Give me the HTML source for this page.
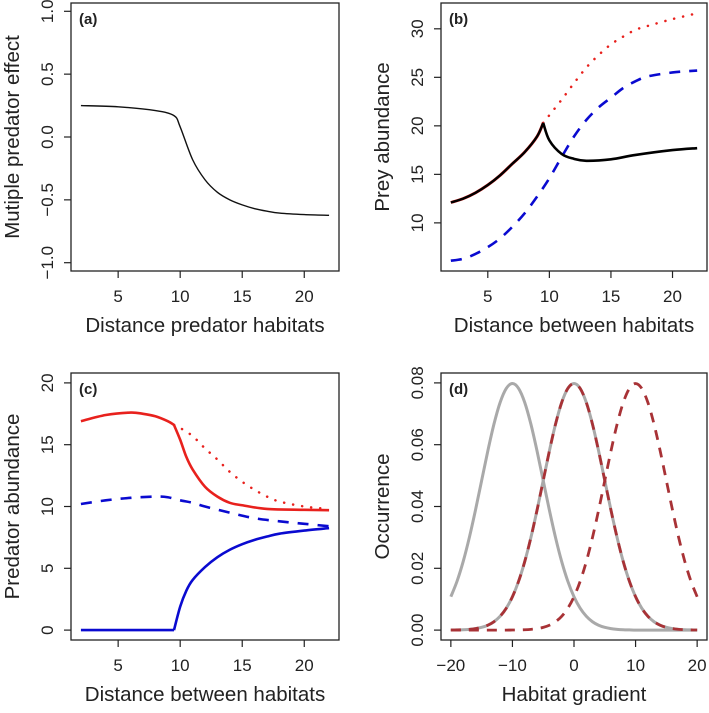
<!DOCTYPE html>
<html><head><meta charset="utf-8"><style>
body{margin:0;background:#fff}
svg{display:block;font-family:"Liberation Sans",Arial,sans-serif}
</style></head><body>
<svg id="fig" width="709" height="713" viewBox="0 0 709 713"></svg>
<script>
// ---------- Data ----------
const aX = [2,5,8,9.5,10,11,12,13,14,15,16,17,18,20,22];
const aY = [0.25,0.24,0.21,0.17,0.08,-0.18,-0.34,-0.44,-0.50,-0.54,-0.57,-0.59,-0.605,-0.617,-0.623];

const bX1 = [2,3,4,5,6,7,8,9,9.5];
const bBlack1 = [12.1,12.5,13.1,13.9,14.9,16.1,17.3,18.9,20.3];
const bX2 = [9.5,10,11,12,13,15,17,20,22];
const bBlack2 = [20.3,18.5,17.1,16.6,16.4,16.55,17.0,17.5,17.7];
const bRedX = [9.5,10,11,12,13,14,15,16,17,18,20,22];
const bRed = [20.3,21.1,22.7,24.4,26,27.3,28.4,29.2,29.9,30.3,31,31.6];
const bBlueX = [2,3,4,5,6,7,8,9,10,11,12,13,14,15,16,17,18,20,22];
const bBlue = [6.1,6.3,6.8,7.5,8.4,9.6,11,12.7,14.6,16.8,18.9,20.6,21.9,22.9,23.9,24.6,25.1,25.5,25.7];

const cX1 = [2,4,6,7,8,9,9.5];
const cRed1 = [16.9,17.4,17.6,17.5,17.3,16.9,16.6];
const cX2 = [9.5,10,10.5,11,12,13,14,15,17,20,22];
const cRed2 = [16.6,15.4,14,13,11.6,10.8,10.3,10.1,9.8,9.73,9.7];
const cRedDotX = [9.5,10,11,12,13,14,15,16,17,18,20,22];
const cRedDot = [16.6,16.35,15.7,14.7,13.8,12.8,12,11.35,10.8,10.4,10,9.8];
const cBlueDashX = [2,4,6,8,9,10,11,12,14,16,18,20,22];
const cBlueDash = [10.2,10.5,10.7,10.8,10.75,10.5,10.3,10,9.5,9.05,8.8,8.6,8.4];
const cBlue1X = [2,9.5];
const cBlue1 = [0,0];
const cBlue2X = [9.5,10,10.5,11,12,13,14,15,16,17,18,20,22];
const cBlue2 = [0,1.9,3.2,4.05,5.1,5.9,6.5,6.95,7.3,7.57,7.8,8.05,8.25];

const dX = [-20,-19,-18,-17,-16,-15,-14,-13,-12,-11,-10,-9,-8,-7,-6,-5,-4,-3,-2,-1,0,1,2,3,4,5,6,7,8,9,10,11,12,13,14,15,16,17,18,19,20];
const dGrayA = [.0108,.01579,.02218,.02995,.03884,.04839,.05794,.06664,.07365,.07821,.07979,.07821,.07365,.06664,.05794,.04839,.03884,.02995,.02218,.01579,.0108,.00709,.00448,.00271,.00158,.00089,.00048,.00025,.00012,.00006,0,0,0,0,0,0,0,0,0,0,0];
const dGrayB = [.00003,.00006,.00012,.00025,.00048,.00089,.00158,.00271,.00448,.00709,.0108,.01579,.02218,.02995,.03884,.04839,.05794,.06664,.07365,.07821,.07979,.07821,.07365,.06664,.05794,.04839,.03884,.02995,.02218,.01579,.0108,.00709,.00448,.00271,.00158,.00089,.00048,.00025,.00012,.00006,.00003];
const dRedA = [.00003,.00006,.00012,.00025,.00048,.00089,.00158,.00271,.00448,.00709,.0108,.01579,.02218,.02995,.03884,.04839,.05794,.06664,.07365,.07821,.07979,.07821,.07365,.06664,.05794,.04839,.03884,.02995,.02218,.01579,.0108,.00709,.00448,.00271,.00158,.00089,.00048,.00025,.00012,.00006,.00003];
const dRedB = [0,0,0,0,0,0,0,0,0,0,.00003,.00006,.00012,.00025,.00048,.00089,.00158,.00271,.00448,.00709,.0108,.01579,.02218,.02995,.03884,.04839,.05794,.06664,.07365,.07821,.07979,.07821,.07365,.06664,.05794,.04839,.03884,.02995,.02218,.01579,.0108];

const xTicksA = [5,10,15,20];
const yTicksA = [-1.0,-0.5,0.0,0.5,1.0];
const yTicksB = [10,15,20,25,30];
const yTicksC = [0,5,10,15,20];
const xTicksD = [-20,-10,0,10,20];
const yTicksD = [0,0.02,0.04,0.06,0.08];

// ---------- Drawing ----------
const NS = "http://www.w3.org/2000/svg";
const svg = document.getElementById('fig');
function el(tag, attrs, parent){
  const e = document.createElementNS(NS, tag);
  for (const k in attrs) e.setAttribute(k, attrs[k]);
  (parent||svg).appendChild(e);
  return e;
}
function spline(pts){
  let d = `M${pts[0][0]},${pts[0][1]}`;
  for (let i=0;i<pts.length-1;i++){
    const p0=pts[Math.max(0,i-1)], p1=pts[i], p2=pts[i+1], p3=pts[Math.min(pts.length-1,i+2)];
    const c1=[p1[0]+(p2[0]-p0[0])/6, p1[1]+(p2[1]-p0[1])/6];
    const c2=[p2[0]-(p3[0]-p1[0])/6, p2[1]-(p3[1]-p1[1])/6];
    d += ` C${c1[0]},${c1[1]} ${c2[0]},${c2[1]} ${p2[0]},${p2[1]}`;
  }
  return d;
}
function panel(o){
  const g = el('g', {});
  
  
  const xs = v => o.L + (v - o.xmin)/(o.xmax-o.xmin)*(o.R-o.L);
  const ys = v => o.B - (v - o.ymin)/(o.ymax-o.ymin)*(o.B-o.T);
  const box = el('rect', {x:o.L, y:o.T, width:o.R-o.L, height:o.B-o.T, fill:'none', stroke:'#222', 'stroke-width':1.3}, g);
  
  
  o.xticks.forEach(t=>{
    const x = xs(t);
    el('line',{x1:x,x2:x,y1:o.B,y2:o.B+7,stroke:'#222','stroke-width':1.2},g);
    const tx = el('text',{x:x,y:o.B+31,'font-size':17,'text-anchor':'middle',fill:'#222'},g);
    tx.textContent = String(t).replace('-','\u2212');
    
    
  });
  o.yticks.forEach((t,i)=>{
    const y = ys(t);
    el('line',{x1:o.L,x2:o.L-7,y1:y,y2:y,stroke:'#222','stroke-width':1.2},g);
    const tx = el('text',{x:0,y:0,'font-size':17,'text-anchor':'middle',fill:'#222',transform:`translate(${o.L-18},${y}) rotate(-90)`},g);
    tx.textContent = o.yfmt(t);
    
    
  });
  const xt = el('text',{x:(o.L+o.R)/2,y:o.B+61,'font-size':20.5,'text-anchor':'middle',fill:'#222'},g);
  xt.textContent = o.xtitle;
  
  
  const yt = el('text',{x:0,y:0,'font-size':20.5,'text-anchor':'middle',fill:'#222',transform:`translate(${o.L-52},${(o.T+o.B)/2}) rotate(-90)`},g);
  yt.textContent = o.ytitle;
  
  
  const lb = el('text',{x:o.L+8,y:o.T+21,'font-size':15,'font-weight':'bold',fill:'#222'},g);
  lb.textContent = o.label;
  
  
  o.series.forEach(s=>{
    const pts = s.x.map((v,i)=>[xs(v), ys(s.y[i])]);
    const p = el('path',{d:spline(pts),fill:'none',stroke:s.color,'stroke-width':s.w,'stroke-dasharray':s.dash||'none','stroke-linecap':s.cap||'butt','stroke-linejoin':'round'},g);
    
    
  });
}
const f1 = v => v.toFixed(1).replace('-','\u2212');
const fi = v => String(v);
const f2 = v => v.toFixed(2);
const RED='#e8211d', BLUE='#0a0ad0', DRED='#a83236', GRAY='#a9a9a9';

panel({name:'panel-a',label:'(a)',L:71,R:339,T:3,B:271,xmin:1.2,xmax:22.8,ymin:-1.066,ymax:1.066,
  xticks:xTicksA,yticks:yTicksA,yfmt:f1,xtitle:'Distance predator habitats',ytitle:'Mutiple predator effect',
  series:[{name:'multiple-predator-effect-line',x:aX,y:aY,color:'#111',w:1.4}]});

panel({name:'panel-b',label:'(b)',L:441,R:707,T:3,B:271,xmin:1.2,xmax:22.8,ymin:5.04,ymax:32.66,
  xticks:xTicksA,yticks:yTicksB,yfmt:fi,xtitle:'Distance between habitats',ytitle:'Prey abundance',
  series:[
   {name:'prey-red-dotted-line',x:bRedX,y:bRed,color:RED,w:2.5,dash:'0.1 9',cap:'round'},
   {name:'prey-blue-dashed-line',x:bBlueX,y:bBlue,color:BLUE,w:2.6,dash:'11 9'},
   {name:'prey-red-line-early',x:bX1,y:bBlack1,color:RED,w:3},
   {name:'prey-black-line-early',x:bX1,y:bBlack1,color:'#000',w:2.4},
   {name:'prey-black-line-late',x:bX2,y:bBlack2,color:'#000',w:2.6}]});

panel({name:'panel-c',label:'(c)',L:71,R:339,T:373,B:640,xmin:1.2,xmax:22.8,ymin:-0.8,ymax:20.8,
  xticks:xTicksA,yticks:yTicksC,yfmt:fi,xtitle:'Distance between habitats',ytitle:'Predator abundance',
  series:[
   {name:'predator-red-dotted-line',x:cRedDotX,y:cRedDot,color:RED,w:2.5,dash:'0.1 9',cap:'round'},
   {name:'predator-blue-dashed-line',x:cBlueDashX,y:cBlueDash,color:BLUE,w:2.6,dash:'11 9'},
   {name:'predator-red-line-early',x:cX1,y:cRed1,color:RED,w:2.6},
   {name:'predator-red-line-late',x:cX2,y:cRed2,color:RED,w:2.6},
   {name:'predator-blue-line-zero',x:cBlue1X,y:cBlue1,color:BLUE,w:2.6},
   {name:'predator-blue-line-late',x:cBlue2X,y:cBlue2,color:BLUE,w:2.6}]});

panel({name:'panel-d',label:'(d)',L:441,R:707,T:373,B:640,xmin:-21.6,xmax:21.6,ymin:-0.0032,ymax:0.0832,
  xticks:xTicksD,yticks:yTicksD,yfmt:f2,xtitle:'Habitat gradient',ytitle:'Occurrence',
  series:[
   {name:'occurrence-gray-left',x:dX,y:dGrayA,color:GRAY,w:3},
   {name:'occurrence-gray-center',x:dX,y:dGrayB,color:GRAY,w:3},
   {name:'occurrence-red-dashed-center',x:dX,y:dRedA,color:DRED,w:2.8,dash:'10 8'},
   {name:'occurrence-red-dashed-right',x:dX,y:dRedB,color:DRED,w:2.8,dash:'10 8'}]});
</script>
</body></html>
